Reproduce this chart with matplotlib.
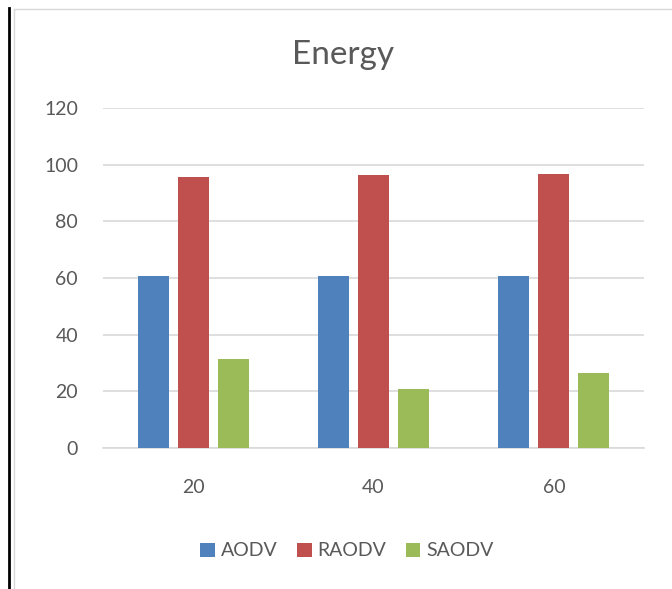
import numpy as np
import matplotlib.pyplot as plt
from matplotlib.lines import Line2D

plt.rcParams['font.family'] = ['Lato', 'DejaVu Sans']

categories = ['20', '40', '60']
series = ['AODV', 'RAODV', 'SAODV']
aodv = [60.7, 60.6, 60.6]
raodv = [95.8, 96.2, 96.6]
saodv = [31.5, 21.0, 26.4]
colors = ['#4F81BD', '#C0504D', '#9BBB59']
text_col = '#595959'

fig = plt.figure(figsize=(6.72, 5.89), dpi=100)
ax = fig.add_axes([103/672, 1 - 448/589, (644-103)/672, (448-108)/589])

x = np.arange(len(categories))
w = 0.172
step = 0.222
for i, (vals, c, name) in enumerate(zip([aodv, raodv, saodv], colors, series)):
    ax.bar(x + (i - 1) * step, vals, width=w, color=c, label=name, zorder=3)

ax.set_xlim(-0.5, 2.5)
ax.set_ylim(0, 120)
ax.set_yticks(range(0, 121, 20))
ax.set_xticks(x)
ax.set_xticklabels(categories)
ax.grid(axis='y', color='#D9D9D9', linewidth=1.2, zorder=0)
for s in ['top', 'right', 'left']:
    ax.spines[s].set_visible(False)
ax.spines['bottom'].set_color('#D9D9D9')
ax.spines['bottom'].set_linewidth(1.2)
ax.tick_params(axis='both', length=0, colors=text_col, labelsize=14)
ax.tick_params(axis='x', pad=22)
ax.tick_params(axis='y', pad=18)

fig.text(343/672, 1 - 55/589, 'Energy', ha='center', va='center', fontsize=24, color=text_col)

leg = fig.legend(loc='center', bbox_to_anchor=(347/672, 1 - 551/589), ncol=3, frameon=False,
                 fontsize=14, handlelength=0.75, handleheight=0.75, handletextpad=0.3,
                 columnspacing=1.0)
for t in leg.get_texts():
    t.set_color(text_col)

# chart frame and page edge
fig.add_artist(Line2D([14/672, 14/672], [0, 1 - 9/589], color='#D9D9D9', lw=1))
fig.add_artist(Line2D([14/672, 1], [1 - 9/589, 1 - 9/589], color='#D9D9D9', lw=1))
fig.add_artist(Line2D([9/672, 9/672], [0, 1 - 8/589], color='black', lw=2))

fig.savefig('out.png', dpi=100)
